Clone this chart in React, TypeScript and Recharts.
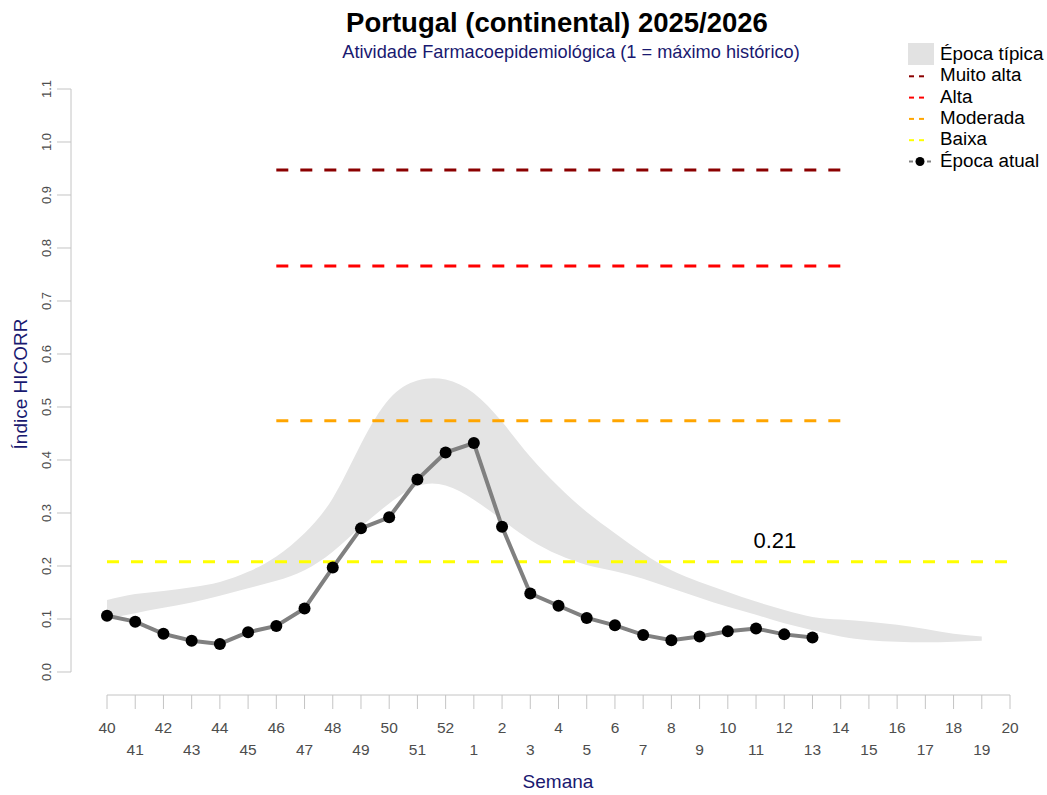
import React from 'react'
import { ComposedChart, Area, Line, XAxis, YAxis, ReferenceLine, ReferenceDot, Legend } from 'recharts'

// weeks of the season, 40 -> 20
const WEEKS = [
  '40', '41', '42', '43', '44', '45', '46', '47', '48', '49', '50', '51', '52',
  '1', '2', '3', '4', '5', '6', '7', '8', '9', '10', '11', '12', '13', '14',
  '15', '16', '17', '18', '19', '20',
]

// época atual (weeks 40 .. 13)
const CURRENT = [
  0.106, 0.095, 0.072, 0.059, 0.053, 0.075, 0.087, 0.12, 0.197, 0.271, 0.292, 0.363, 0.414,
  0.432, 0.274, 0.148, 0.125, 0.102, 0.088, 0.07, 0.06, 0.067, 0.077, 0.082, 0.071, 0.065,
]

// época típica band (weeks 40 .. 19)
const BAND_LOW = [
  0.1, 0.111, 0.121, 0.131, 0.144, 0.158, 0.172, 0.192, 0.227, 0.274, 0.318, 0.351, 0.352,
  0.325, 0.287, 0.249, 0.221, 0.202, 0.19, 0.176, 0.158, 0.14, 0.123, 0.108, 0.092, 0.079,
  0.067, 0.06, 0.057, 0.056, 0.057, 0.059,
]
const BAND_HIGH = [
  0.136, 0.147, 0.153, 0.16, 0.17, 0.189, 0.218, 0.262, 0.328, 0.43, 0.515, 0.55, 0.552,
  0.526, 0.472, 0.406, 0.35, 0.302, 0.262, 0.224, 0.192, 0.17, 0.151, 0.133, 0.117, 0.104,
  0.099, 0.095, 0.089, 0.081, 0.072, 0.067,
]

// activity thresholds
const MUITO_ALTA = 0.947
const ALTA = 0.766
const MODERADA = 0.474
const BAIXA = 0.208

const Y_TICKS = [0, 0.1, 0.2, 0.3, 0.4, 0.5, 0.6, 0.7, 0.8, 0.9, 1.0, 1.1]

const LEGEND_ITEMS = [
  { label: 'Época típica', kind: 'box', color: '#e2e2e2' },
  { label: 'Muito alta', kind: 'dash', color: '#8b0000' },
  { label: 'Alta', kind: 'dash', color: '#ff0000' },
  { label: 'Moderada', kind: 'dash', color: '#ffa500' },
  { label: 'Baixa', kind: 'dash', color: '#ffff00' },
  { label: 'Época atual', kind: 'dot', color: '#808080' },
]

const FONT = '"Liberation Sans", Arial, sans-serif'
const NAVY = '#191970'
const AXIS_GRAY = '#c4c4c4'
const TICK_TEXT = '#4d4d4d'

const data = WEEKS.map((week, i) => ({
  idx: i,
  week,
  current: i < CURRENT.length ? CURRENT[i] : null,
  band: i < BAND_LOW.length ? [BAND_LOW[i], BAND_HIGH[i]] : null,
}))

const lastIdx = WEEKS.length - 1
const idx46 = WEEKS.indexOf('46')
const idx14 = WEEKS.indexOf('14')
// y axis sits 36px left of week 40 (one week = 903/32 px)
const yAxisX = -36 / (903 / 32)

function XTick(props: any) {
  const { x, y, payload } = props
  const i = payload.value as number
  return (
    <text x={x} y={y + (i % 2 === 0 ? 24 : 46)} textAnchor="middle" fontSize={15.5} fill={TICK_TEXT} fontFamily={FONT}>
      {WEEKS[i]}
    </text>
  )
}

function YTick(props: any) {
  const { y, payload } = props
  return (
    <g>
      <line x1={57} x2={71} y1={y} y2={y} stroke={AXIS_GRAY} />
      <text transform={`translate(51, ${y}) rotate(-90)`} textAnchor="middle" fontSize={13} fill={TICK_TEXT} fontFamily={FONT}>
        {(payload.value as number).toFixed(1)}
      </text>
    </g>
  )
}

function LegendBox() {
  return (
    <svg width={147} height={140} style={{ display: 'block' }}>
      {LEGEND_ITEMS.map((item, i) => {
        const base = 20 + i * 21.3
        const mid = base - 5
        return (
          <g key={item.label}>
            {item.kind === 'box' && <rect x={8} y={3} width={26} height={22} fill={item.color} />}
            {item.kind === 'dash' && (
              <g stroke={item.color} strokeWidth={2}>
                <line x1={9} x2={14} y1={mid} y2={mid} />
                <line x1={19} x2={24} y1={mid} y2={mid} />
              </g>
            )}
            {item.kind === 'dot' && (
              <g>
                <line x1={9} x2={13} y1={mid} y2={mid} stroke={item.color} strokeWidth={2} />
                <line x1={27} x2={31} y1={mid} y2={mid} stroke={item.color} strokeWidth={2} />
                <circle cx={20} cy={mid} r={4.5} fill="#000" />
              </g>
            )}
            <text x={40} y={base} fontSize={18.8} fontFamily={FONT} fill="#000">
              {item.label}
            </text>
          </g>
        )
      })}
    </svg>
  )
}

export default function App() {
  return (
    <div style={{ position: 'absolute', left: 0, top: 0, width: 1047, height: 795, background: '#fff', fontFamily: FONT }}>
      <ComposedChart width={1047} height={795} data={data} margin={{ top: 89, right: 37, left: 47, bottom: 40 }}>
        <XAxis
          dataKey="idx"
          type="number"
          domain={[0, lastIdx]}
          ticks={data.map((d) => d.idx)}
          interval={0}
          height={60}
          tickSize={14}
          tickMargin={0}
          stroke={AXIS_GRAY}
          tickLine={{ stroke: AXIS_GRAY }}
          tick={<XTick />}
        />
        <YAxis
          type="number"
          domain={[-0.0434, 1.1]}
          ticks={Y_TICKS}
          width={60}
          axisLine={false}
          tickLine={false}
          tick={<YTick />}
          allowDataOverflow
        />
        <Area
          dataKey="band"
          type="natural"
          fill="#e4e4e4"
          fillOpacity={1}
          stroke="none"
          isAnimationActive={false}
        />
        <ReferenceLine
          segment={[{ x: yAxisX, y: 0 }, { x: yAxisX, y: 1.1 }]}
          stroke={AXIS_GRAY}
          ifOverflow="visible"
        />
        <ReferenceLine
          segment={[{ x: idx46, y: MUITO_ALTA }, { x: idx14, y: MUITO_ALTA }]}
          stroke="#8b0000"
          strokeWidth={3}
          strokeDasharray="12 12"
        />
        <ReferenceLine
          segment={[{ x: idx46, y: ALTA }, { x: idx14, y: ALTA }]}
          stroke="#ff0000"
          strokeWidth={3}
          strokeDasharray="12 12"
        />
        <ReferenceLine
          segment={[{ x: idx46, y: MODERADA }, { x: idx14, y: MODERADA }]}
          stroke="#ffa500"
          strokeWidth={3}
          strokeDasharray="12 12"
        />
        <ReferenceLine
          segment={[{ x: 0, y: BAIXA }, { x: lastIdx, y: BAIXA }]}
          stroke="#ffff00"
          strokeWidth={3}
          strokeDasharray="12 12"
        />
        <ReferenceDot
          x={23.67}
          y={0.249}
          r={0}
          fill="none"
          stroke="none"
          label={{ value: BAIXA.toFixed(2), position: 'center', fontSize: 22, fill: '#000', fontFamily: FONT }}
        />
        <Line
          dataKey="current"
          type="linear"
          stroke="#808080"
          strokeWidth={4}
          dot={{ r: 6, fill: '#000', stroke: 'none' }}
          activeDot={false}
          connectNulls={false}
          isAnimationActive={false}
        />
        <Legend
          layout="vertical"
          align="center"
          verticalAlign="middle"
          wrapperStyle={{ position: 'absolute', left: 900, top: 40, width: 147 }}
          content={() => <LegendBox />}
        />
      </ComposedChart>
      <svg width={1047} height={795} style={{ position: 'absolute', left: 0, top: 0, pointerEvents: 'none' }}>
        <text x={557} y={32} textAnchor="middle" fontSize={27.5} fontWeight="bold" fill="#000" fontFamily={FONT}>
          Portugal (continental) 2025/2026
        </text>
        <text x={571} y={58} textAnchor="middle" fontSize={18.2} fill={NAVY} fontFamily={FONT}>
          Atividade Farmacoepidemiológica (1 = máximo histórico)
        </text>
        <text transform="translate(27, 384) rotate(-90)" textAnchor="middle" fontSize={19} fill={NAVY} fontFamily={FONT}>
          Índice HICORR
        </text>
        <text x={558} y={788} textAnchor="middle" fontSize={19} fill={NAVY} fontFamily={FONT}>
          Semana
        </text>
      </svg>
    </div>
  )
}
